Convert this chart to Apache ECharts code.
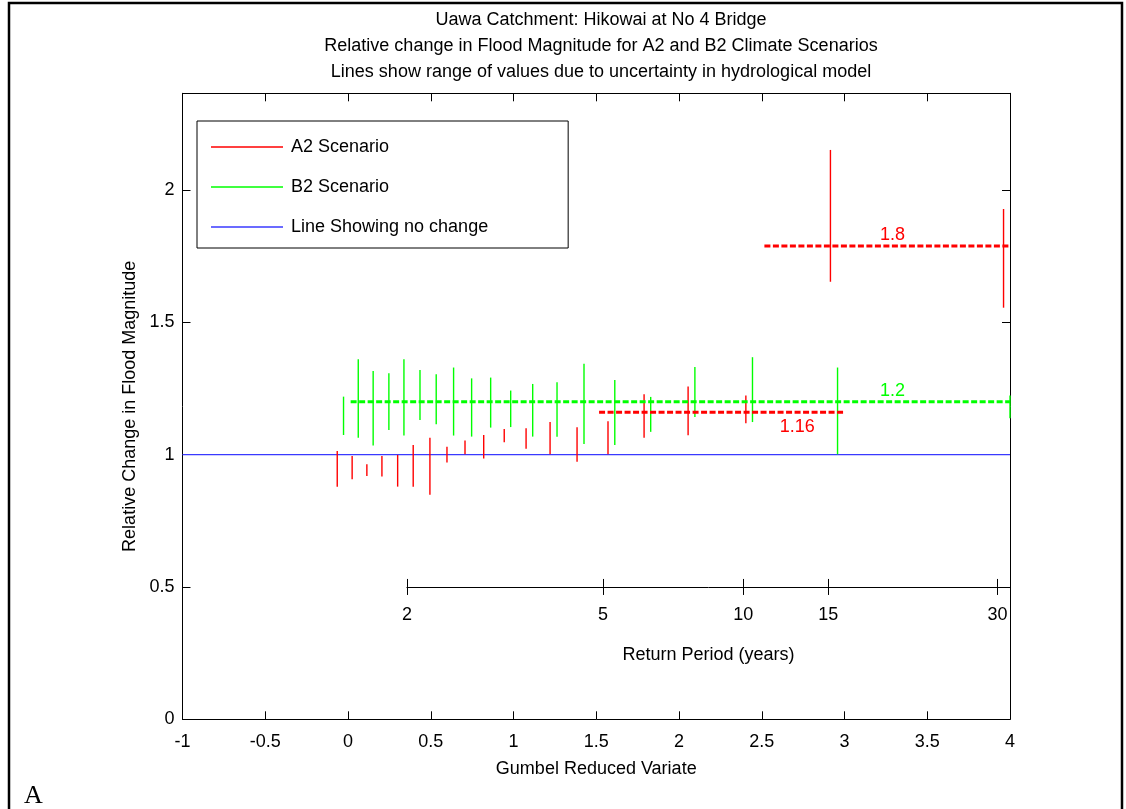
<!DOCTYPE html>
<html>
<head>
<meta charset="utf-8">
<script src="https://cdn.jsdelivr.net/npm/echarts@6/dist/echarts.min.js"></script>
<style>
  html, body { margin: 0; padding: 0; background: #fff; }
  #chart { width: 1126px; height: 809px; }
</style>
</head>
<body>
<div id="chart"></div>
<script>
// ---- Data ----
const titleLines = [
  'Uawa Catchment: Hikowai at No 4 Bridge',
  'Relative change in Flood Magnitude for A2 and B2 Climate Scenarios',
  'Lines show range of values due to uncertainty in hydrological model'
];
// A2 scenario ranges: Gumbel reduced variate, low, high
const a2X    = [-0.065, 0.025, 0.114, 0.205, 0.300, 0.394, 0.495, 0.598, 0.707, 0.820, 0.944, 1.076, 1.221, 1.384, 1.571, 1.789, 2.055, 2.404, 2.915, 3.961];
const a2Low  = [0.879, 0.907, 0.919, 0.917, 0.879, 0.879, 0.848, 0.970, 1.001, 0.985, 1.047, 1.022, 1.001, 0.973, 1.001, 1.064, 1.073, 1.118, 1.653, 1.555];
const a2High = [1.014, 0.995, 0.964, 0.995, 0.999, 1.036, 1.064, 1.030, 1.053, 1.074, 1.097, 1.100, 1.123, 1.103, 1.126, 1.228, 1.257, 1.223, 2.151, 1.928];
// B2 scenario ranges
const b2X    = [-0.027, 0.062, 0.152, 0.247, 0.338, 0.435, 0.533, 0.638, 0.747, 0.862, 0.983, 1.116, 1.263, 1.426, 1.612, 1.829, 2.096, 2.444, 2.958, 4.000];
const b2Low  = [1.074, 1.064, 1.034, 1.093, 1.072, 1.131, 1.115, 1.072, 1.068, 1.102, 1.104, 1.068, 1.067, 1.040, 1.036, 1.086, 1.142, 1.123, 1.001, 1.137];
const b2High = [1.219, 1.360, 1.316, 1.307, 1.360, 1.320, 1.304, 1.329, 1.288, 1.291, 1.242, 1.267, 1.273, 1.343, 1.282, 1.218, 1.331, 1.368, 1.329, 1.223];
// No-change line
const noChangeX = [-1, 4];
const noChangeY = [1, 1];
// Mean-change dashed lines
const b2MeanX = [0.016, 4];   const b2MeanY = 1.2;
const a2MeanLowX = [1.517, 3.004]; const a2MeanLowY = 1.16;
const a2MeanHighX = [2.516, 4];    const a2MeanHighY = 1.788;
// Annotation texts (anchor x, anchor y, text, side)
const annotX = [3.29, 3.29, 2.715];
const annotY = [1.788, 1.2, 1.16];
const annotText = ['1.8', '1.2', '1.16'];
const annotSide = ['above', 'above', 'below'];
const annotSeries = ['A2', 'B2', 'A2'];
// Axis ticks
const xTicks = [-1, -0.5, 0, 0.5, 1, 1.5, 2, 2.5, 3, 3.5, 4];
const yTicks = [0, 0.5, 1, 1.5, 2];
// Return period secondary axis: label, Gumbel reduced variate position
const rpLabels = ['2', '5', '10', '15', '30'];
const rpPos    = [0.356, 1.541, 2.388, 2.902, 3.924];

// ---- Layout ----
const gridLeft = 182.5, gridTop = 93.3, gridRight = 1010, gridBottom = 719.3;
const xMin = -1, xMax = 4, yMin = 0, yMax = 2.365;
const RED = '#ff0000', GREEN = '#00ff00', BLUE = '#3a3aff';
const FONT = '"Liberation Sans", Arial, Helvetica, sans-serif';
const FS = 18;

const chart = echarts.init(document.getElementById('chart'), null, { renderer: 'canvas' });

const rangeData = (xs, lo, hi) => xs.map((x, i) => [x, lo[i], hi[i]]);
const rangeRender = (color) => function (params, api) {
  const p1 = api.coord([api.value(0), api.value(1)]);
  const p2 = api.coord([api.value(0), api.value(2)]);
  return {
    type: 'line',
    shape: { x1: p1[0], y1: p1[1], x2: p2[0], y2: p2[1] },
    style: { stroke: color, lineWidth: 1.4 }
  };
};

const annotData = annotX.map((x, i) => [x, annotY[i], annotText[i], annotSide[i], annotSeries[i]]);

const rpLeftPx = gridLeft + (rpPos[0] - xMin) / (xMax - xMin) * (gridRight - gridLeft);
const rpAxisY = gridBottom - (0.5 - yMin) / (yMax - yMin) * (gridBottom - gridTop);

const axisLineStyle = { color: '#000', width: 1 };
const labelStyle = { color: '#000', fontSize: FS, fontFamily: FONT };

const option = {
  backgroundColor: '#fff',
  animation: false,
  title: {
    text: titleLines.join('\n'),
    left: 596, top: 2, textAlign: 'center',
    textStyle: { fontSize: FS, fontWeight: 'normal', color: '#000', fontFamily: FONT, lineHeight: 26 }
  },
  legend: {
    data: ['A2 Scenario', 'B2 Scenario', 'Line Showing no change'],
    orient: 'vertical',
    left: 197, top: 121,
    icon: 'rect',
    itemWidth: 72, itemHeight: 1.5,
    itemGap: 20,
    padding: [16, 80, 11, 14],
    backgroundColor: '#fff',
    borderColor: '#000', borderWidth: 1, borderRadius: 0,
    textStyle: { fontSize: FS, color: '#000', fontFamily: FONT, lineHeight: 20, padding: [0, 0, 0, 3] },
    selectedMode: false
  },
  grid: [
    { left: gridLeft, top: gridTop, width: gridRight - gridLeft, height: gridBottom - gridTop, show: false },
    { left: rpLeftPx, width: gridRight - rpLeftPx, top: rpAxisY - 100, height: 100, show: false }
  ],
  xAxis: [
    {
      type: 'value', gridIndex: 0, min: xMin, max: xMax, interval: 0.5, position: 'bottom',
      name: 'Gumbel Reduced Variate', nameLocation: 'middle', nameGap: 41,
      nameTextStyle: labelStyle,
      axisLine: { show: true, onZero: false, lineStyle: axisLineStyle },
      axisTick: { show: true, inside: true, length: 8, lineStyle: axisLineStyle },
      axisLabel: Object.assign({ margin: 14, showMinLabel: true, showMaxLabel: true,
        formatter: v => String(v) }, labelStyle),
      splitLine: { show: false }
    },
    {
      type: 'value', gridIndex: 0, min: xMin, max: xMax, interval: 0.5, position: 'top',
      axisLine: { show: true, onZero: false, lineStyle: axisLineStyle },
      axisTick: { show: true, inside: true, length: 8, lineStyle: axisLineStyle },
      axisLabel: { show: false }, splitLine: { show: false }
    },
    {
      type: 'value', gridIndex: 1, min: rpPos[0], max: xMax, position: 'bottom',
      name: 'Return Period (years)', nameLocation: 'middle', nameGap: 59,
      nameTextStyle: labelStyle,
      axisLine: { show: true, onZero: false, lineStyle: axisLineStyle },
      axisTick: { show: true, inside: false, length: 8, lineStyle: axisLineStyle, customValues: rpPos },
      axisLabel: Object.assign({ margin: 19,
        customValues: rpPos,
        formatter: v => { const i = rpPos.findIndex(p => Math.abs(p - v) < 1e-6); return i >= 0 ? rpLabels[i] : ''; }
      }, labelStyle),
      splitLine: { show: false }
    },
    {
      type: 'value', gridIndex: 1, min: rpPos[0], max: xMax, position: 'bottom',
      axisLine: { show: false, onZero: false },
      axisTick: { show: true, inside: true, length: 8, lineStyle: axisLineStyle, customValues: rpPos },
      axisLabel: { show: false }, splitLine: { show: false }
    }
  ],
  yAxis: [
    {
      type: 'value', gridIndex: 0, min: yMin, max: yMax, position: 'left',
      name: 'Relative Change in Flood Magnitude', nameLocation: 'middle', nameGap: 43,
      nameTextStyle: labelStyle,
      axisLine: { show: true, onZero: false, lineStyle: axisLineStyle },
      axisTick: { show: true, inside: true, length: 8, lineStyle: axisLineStyle, customValues: yTicks },
      axisLabel: Object.assign({ margin: 8, customValues: yTicks, formatter: v => String(v) }, labelStyle),
      splitLine: { show: false }
    },
    {
      type: 'value', gridIndex: 0, min: yMin, max: yMax, position: 'right',
      axisLine: { show: true, onZero: false, lineStyle: axisLineStyle },
      axisTick: { show: true, inside: true, length: 8, lineStyle: axisLineStyle, customValues: yTicks },
      axisLabel: { show: false }, splitLine: { show: false }
    },
    {
      type: 'value', gridIndex: 1, min: 0, max: 1, show: false
    }
  ],
  series: [
    {
      name: 'Line Showing no change', type: 'line', xAxisIndex: 0, yAxisIndex: 0,
      data: noChangeX.map((x, i) => [x, noChangeY[i]]),
      symbol: 'none', color: BLUE,
      lineStyle: { color: BLUE, width: 1.4 }, z: 2
    },
    {
      name: 'A2 Scenario', type: 'custom', xAxisIndex: 0, yAxisIndex: 0,
      data: rangeData(a2X, a2Low, a2High),
      encode: { x: 0, y: [1, 2] },
      renderItem: rangeRender(RED), itemStyle: { color: RED }, z: 3
    },
    {
      name: 'B2 Scenario', type: 'custom', xAxisIndex: 0, yAxisIndex: 0,
      data: rangeData(b2X, b2Low, b2High),
      encode: { x: 0, y: [1, 2] },
      renderItem: rangeRender(GREEN), itemStyle: { color: GREEN }, z: 3
    },
    {
      name: 'B2 mean', type: 'line', xAxisIndex: 0, yAxisIndex: 0,
      data: b2MeanX.map(x => [x, b2MeanY]), symbol: 'none',
      lineStyle: { color: GREEN, width: 3, type: [6, 2.5] }, z: 4
    },
    {
      name: 'A2 mean low', type: 'line', xAxisIndex: 0, yAxisIndex: 0,
      data: a2MeanLowX.map(x => [x, a2MeanLowY]), symbol: 'none',
      lineStyle: { color: RED, width: 3, type: [6, 2.5] }, z: 4
    },
    {
      name: 'A2 mean high', type: 'line', xAxisIndex: 0, yAxisIndex: 0,
      data: a2MeanHighX.map(x => [x, a2MeanHighY]), symbol: 'none',
      lineStyle: { color: RED, width: 3, type: [6, 2.5] }, z: 4
    },
    {
      name: 'Annotations', type: 'custom', xAxisIndex: 0, yAxisIndex: 0,
      data: annotData,
      encode: { x: 0, y: 1 },
      renderItem: function (params, api) {
        const d = annotData[params.dataIndex];
        const p = api.coord([d[0], d[1]]);
        const above = d[3] === 'above';
        return {
          type: 'text',
          x: p[0], y: above ? p[1] - 2 : p[1] + 6,
          style: {
            text: d[2], fill: d[4] === 'A2' ? RED : GREEN,
            font: FS + 'px ' + FONT, align: 'center',
            verticalAlign: above ? 'bottom' : 'top'
          }
        };
      }, z: 5
    }
  ],
  graphic: [
    {
      type: 'rect', silent: true,
      shape: { x: 9, y: 3, width: 1113, height: 830 },
      style: { fill: 'none', stroke: '#000', lineWidth: 2.5 }
    },
    {
      type: 'text', left: 24, top: 783,
      style: { text: 'A', fill: '#000', font: '26px "Liberation Serif", "DejaVu Serif", serif' }
    }
  ]
};

chart.setOption(option);
</script>
</body>
</html>
